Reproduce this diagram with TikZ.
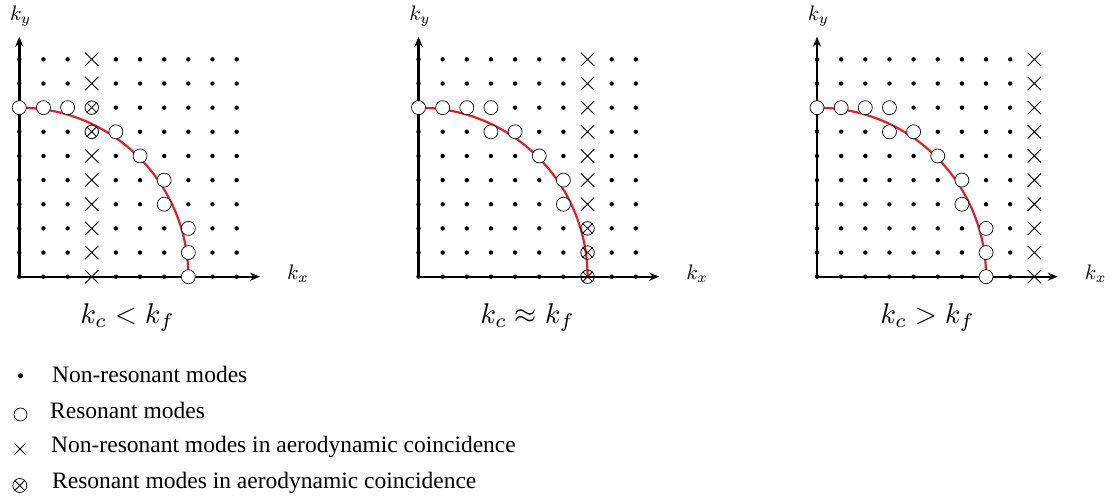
\documentclass[tikz,border=0pt]{standalone}
\usepackage{fontspec}
\newfontfamily\legendfont{Liberation Serif}
\usetikzlibrary{arrows.meta,shapes.misc}
\definecolor{curvered}{RGB}{228,32,38}
\newcommand\setres[1]{\expandafter\gdef\csname res#1\endcsname{}}
\setres{0-7}\setres{1-7}\setres{2-7}\setres{3-7}\setres{3-6}\setres{4-6}
\setres{5-5}\setres{6-4}\setres{6-3}\setres{7-2}\setres{7-1}\setres{7-0}
\tikzset{
  dotm/.style={circle, fill=black, inner sep=0pt, minimum size=4.4pt},
  resm/.style={circle, draw=black, fill=white, line width=0.7pt, inner sep=0pt, minimum size=14pt},
  crossm/.style={cross out, draw=black, line width=0.9pt, inner sep=0pt, minimum size=12.5pt},
  rcoinm/.style={circle, draw=black, line width=0.8pt, inner sep=0pt, minimum size=13.5pt,
    path picture={\draw[line width=0.8pt] (path picture bounding box.north west) -- (path picture bounding box.south east)
      (path picture bounding box.south west) -- (path picture bounding box.north east);}},
  axisl/.style={line width=2.4pt, {Stealth[length=10pt,width=8pt]}-{Stealth[length=10pt,width=8pt]}},
  curvel/.style={curvered, line width=2.2pt},
  axlab/.style={inner sep=0pt, anchor=base west, scale=2.1, transform shape},
  caselab/.style={inner sep=0pt, anchor=base, scale=2.85, transform shape},
  legtext/.style={inner sep=0pt, anchor=base west, font=\legendfont\fontsize{23.5}{28}\selectfont},
}
\newcommand\mypanel[3]{%
  \begin{scope}[shift={(#2pt,-276.7pt)}, x=24.15pt, y=24.15pt]
    \coordinate (#1o) at (0,0);
    \coordinate (#1x) at (9.97,0);
    \coordinate (#1y) at (0,9.94);
    \draw[axisl] (#1y) -- (#1o) -- (#1x);
    \draw[curvel] (0,7) arc[start angle=90, end angle=0, radius=7];
    \foreach \i in {0,...,9}{
      \foreach \j in {0,...,9}{
        \ifcsname res\i-\j\endcsname
          \ifnum\i=#3\relax
            \node[rcoinm] (#1-\i-\j) at (\i,\j) {};
          \else
            \node[resm] (#1-\i-\j) at (\i,\j) {};
          \fi
        \else
          \ifnum\i=#3\relax
            \node[crossm] (#1-\i-\j) at (\i,\j) {};
          \else
            \node[dotm] (#1-\i-\j) at (\i,\j) {};
          \fi
        \fi
      }
    }
    \node[axlab] (#1kx) at (267.5pt,-2.3pt) {$k_x$};
    \node[axlab] (#1ky) at (-9.5pt,256pt) {$k_y$};
  \end{scope}}
\begin{document}
\begin{tikzpicture}
  \useasboundingbox (0pt,0pt) rectangle (1116pt,-497pt);
  \mypanel{a}{19.3}{3}
  \mypanel{b}{418.5}{7}
  \mypanel{c}{817}{9}
  \node[caselab] (la) at (127.5pt,-323pt) {$k_c < k_f$};
  \node[caselab] (lb) at (527.5pt,-323pt) {$k_c \approx k_f$};
  \node[caselab] (lc) at (927.5pt,-323pt) {$k_c > k_f$};
  % legend
  \node[dotm, minimum size=5pt] (s1) at (20.5pt,-375.7pt) {};
  \node[circle, draw=black, line width=0.7pt, inner sep=0pt, minimum size=13pt] (s2) at (20.5pt,-414.5pt) {};
  \node[crossm, minimum size=10pt, line width=0.8pt] (s3) at (20pt,-449pt) {};
  \node[rcoinm, minimum size=14pt, line width=0.7pt] (s4) at (19.8pt,-485.5pt) {};
  \node[legtext] (t1) at (52pt,-382pt) {Non-resonant modes};
  \node[legtext] (t2) at (50pt,-418.3pt) {Resonant modes};
  \node[legtext] (t3) at (51pt,-452pt) {Non-resonant modes in aerodynamic coincidence};
  \node[legtext] (t4) at (52pt,-488.3pt) {Resonant modes in aerodynamic coincidence};
\end{tikzpicture}
\end{document}
